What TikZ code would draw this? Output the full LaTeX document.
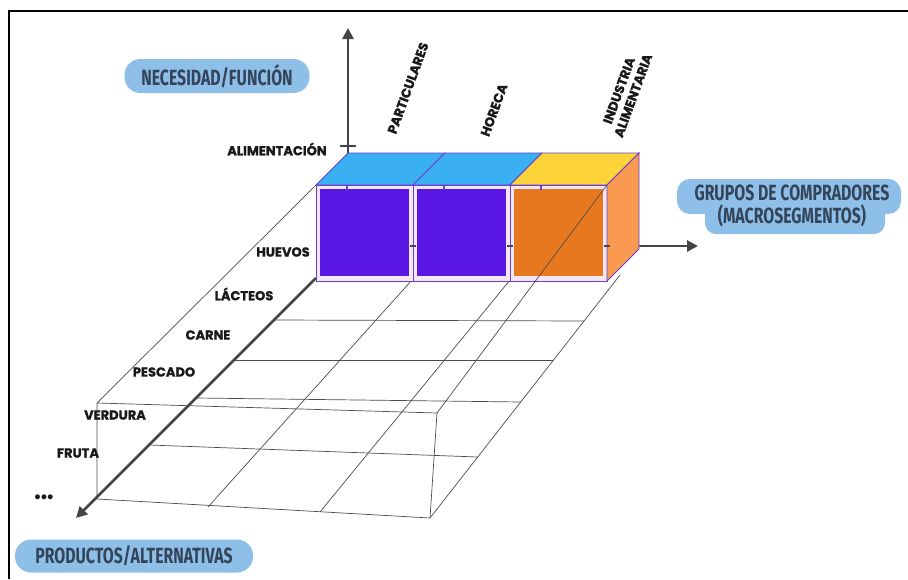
\documentclass[tikz,border=0pt]{standalone}
\usepackage{graphicx}
\usepackage{fontspec}
\setmainfont{Poppins}
\newfontfamily\lblfont{Poppins}[BoldFeatures={FakeBold=1.2}]
\newfontfamily\pillfont{Fira Sans}
\newfontfamily\symfont{DejaVu Sans}
\usetikzlibrary{arrows.meta}

\definecolor{pillblue}{HTML}{8DBFE9}
\definecolor{pilltext}{HTML}{34455A}
\definecolor{axisgray}{HTML}{454545}
\definecolor{topblue}{HTML}{3AAFF2}
\definecolor{topyellow}{HTML}{FCD43A}
\definecolor{segpurple}{HTML}{5A16E2}
\definecolor{segorange}{HTML}{E8781E}
\definecolor{sideorange}{HTML}{F99A50}
\definecolor{framelila}{HTML}{F3E6F7}
\definecolor{edgepurple}{HTML}{6A3FD0}

\newcommand\squeeze[1]{\scalebox{0.72}[1]{#1}}

\begin{document}
\begin{tikzpicture}[x=1pt, y=-1pt,
    axis/.style={draw=axisgray, line width=2.8pt, -{Triangle[length=11pt,width=11pt]}},
    gridline/.style={draw=black!70, line width=0.7pt},
    lbl/.style={font=\lblfont\bfseries\fontsize{13}{15}\selectfont, text=black!90, inner sep=0pt},
    pill/.style={fill=pillblue, text=pilltext, rounded corners=16pt, inner sep=0pt,
      font=\pillfont\bfseries\fontsize{22}{24}\selectfont},
  ]
  \useasboundingbox (0,0) rectangle (908,579);
  \draw[line width=1.6pt] (9,579) -- (9,11) -- (908,11);

  % floor grid
  \draw[gridline] (316,185) -- (97,403) -- (97,499) -- (430,518) -- (437,413) -- (97,403);
  \draw[gridline] (430,518) -- (620,275);
  \draw[gridline] (412,280) -- (208,507);
  \draw[gridline] (510,280) -- (320,512);
  \draw[gridline] (274,320) -- (584,321);
  \draw[gridline] (234,360) -- (553,360);
  \draw[gridline] (196,398) -- (521,402);
  \draw[gridline] (149,445) -- (478,457);

  % axes
  \coordinate (origin) at (348,246);
  \coordinate (cubetop) at (348,153);
  \coordinate (vtip) at (348,28);
  \coordinate (cubeside) at (639,246);
  \coordinate (htip) at (698,246);
  \coordinate (cubefoot) at (316,278);
  \coordinate (dtip) at (76,518);
  \draw[axis] (cubetop) -- (vtip);
  \draw[axis] (cubeside) -- (htip);
  \draw[axis] (cubefoot) -- (dtip);
  \draw[axisgray, line width=2.8pt] (340,146) -- (356,146);

  % macrosegment cubes
  \foreach \x/\topc/\frontc in {316/topblue/segpurple, 413/topblue/segpurple, 510/topyellow/segorange} {
    \filldraw[fill=\topc, draw=edgepurple, line width=0.8pt]
      (\x,185) -- (\x+32,153) -- (\x+129,153) -- (\x+97,185) -- cycle;
    \filldraw[fill=framelila, draw=edgepurple, line width=0.8pt] (\x,185) rectangle (\x+97,281);
    \fill[\frontc] (\x+4,189) rectangle (\x+93,276);
    \draw[edgepurple, line width=1.2pt] (\x+31,185) -- (\x+31,190);
  }
  \filldraw[fill=sideorange, draw=edgepurple, line width=0.8pt]
    (607,185) -- (639,153) -- (639,249) -- (607,281) -- cycle;
  \foreach \x in {413,510,607}
    \draw[axisgray, line width=2.2pt] (\x-3,246) -- (\x+3,246);
  \draw[gridline] (607,185) -- (437,413);

  % labels
  \node[lbl] (alim) at (277,149) {ALIMENTACIÓN};
  \node[lbl] (huevos) at (283,252) {HUEVOS};
  \node[lbl] (lacteos) at (244,294) {LÁCTEOS};
  \node[lbl] (carne) at (208,335) {CARNE};
  \node[lbl] (pescado) at (164,372) {PESCADO};
  \node[lbl] (verdura) at (115,415) {VERDURA};
  \node[lbl] (fruta) at (78,453) {FRUTA};
  \node[lbl, font=\symfont\bfseries\fontsize{14}{16}\selectfont] (more) at (44,499) {•\kern-2.5pt•\kern-2.5pt•};
  \node[lbl, rotate=70] (partic) at (408,88) {PARTICULARES};
  \node[lbl, rotate=70] (horeca) at (494,110) {HORECA};
  \node[lbl, rotate=70, align=center] (industria) at (626,93) {INDUSTRIA\\ALIMENTARIA};

  % axis titles
  \node[pill, minimum width=185, minimum height=34] (necesidad) at (217,76) {\squeeze{NECESIDAD/FUNCIÓN}};
  \node[pill, minimum width=238, minimum height=33] (productos) at (134,556) {\squeeze{PRODUCTOS/ALTERNATIVAS}};
  \fill[pillblue, rounded corners=13pt] (677,179) rectangle (901,214);
  \fill[pillblue, rounded corners=11pt] (705,196) rectangle (885,234);
  \node[pill, fill=none, align=center, font=\pillfont\bfseries\fontsize{22}{23}\selectfont] (grupos) at (792,206)
    {\squeeze{GRUPOS DE COMPRADORES}\\\squeeze{(MACROSEGMENTOS)}};
\end{tikzpicture}
\end{document}
